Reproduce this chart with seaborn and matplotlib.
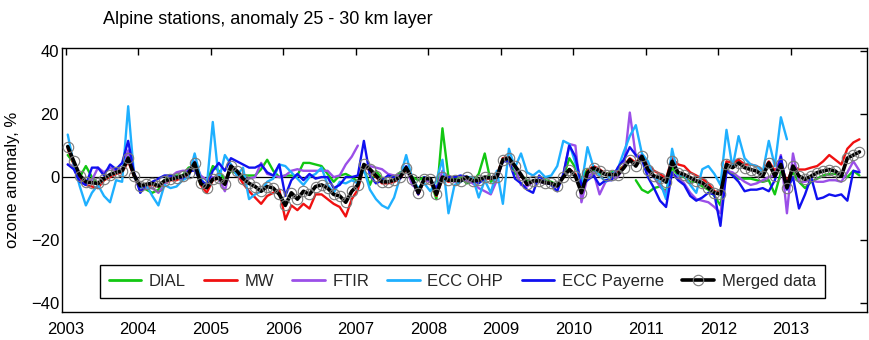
import numpy as np
import pandas as pd
import matplotlib
matplotlib.use("Agg")
import matplotlib.pyplot as plt
from matplotlib.lines import Line2D
import seaborn as sns

nan = np.nan

# Monthly ozone anomalies (%) in the 25-30 km layer, Jan 2003 .. Dec 2013
dial = [
    7, 4.5, 0, 3.5, 0, -2.5, -1, 0.5, 1.5, 2.5, 6.5, 0.5,
    -2.5, -4, -5, -4, -1, 0, 0.5, 0.5, 3, 3.5, -2.5, -2,
    3.5, 2, -1, 2, 1, 0.5, 0.5, 0.5, 2.5, 5.5, 2, 0,
    0.5, 0.5, 0.5, 4.5, 4.5, 4, 3.5, 1, -1.5, 0.5, 1, 0,
    -1.5, 2.5, -2.5, 2, -0.5, -1.5, -1, 1.5, 2, 0, -1, 0,
    -1, -7, 15.5, 0, -0.5, 0, -2, -1.5, 1, 7.5, -1.5, 0,
    6, 5.5, 1, 0.5, -1, -1.5, -1.5, -1, -1.5, -2.5, 0, 6,
    3, -0.5, 2.5, 2, 1, 1, 1.5, 2, 3.5, nan, -1, -4,
    -5, -3.5, -3, -4.5, 3, 0.5, 0, -1.5, -1.5, -3, -4, -6,
    -9, 2, 1, -0.5, -0.5, -0.5, -1, -1.5, -1, -5.5, 1.5, -1.5,
    1.5, -1.5, -3.5, -1.5, -0.5, 0.5, 1, 1, 0.5, 0, 2, 0.5,
]
mw = [
    9, 4, -0.5, -2.5, -3, -3.5, -1, 0, 1, 1.5, 5, 0,
    -4, -3, -2.5, -3, -2, -1, -1, 0, 0.5, 4.5, -2.5, -5,
    -1, -0.5, -1.5, 3, 1, -2, -4.5, -6.5, -8.5, -6, -5, -4,
    -13.5, -9, -10.5, -8.5, -10, -5.5, -5.5, -7, -8.5, -9.5, -12.5, -7,
    -4, 3.5, 2, 0, -2, -2, -1.5, -0.5, 2.5, -1, -5.5, -1,
    -1.5, -6, -0.5, -1.5, -1, -1, 0, -1, -1.5, -0.5, -0.5, 0.5,
    6, 6.5, 3.5, 0.5, -2.5, -1.5, -1, -1.5, -2, -3, 0, 2.5,
    1, -4.5, 2, 3.5, 2.5, 1, 1, 1.5, 3.5, 6, 4.5, 7,
    4, 2, 1, -0.5, 6, 4, 3.5, 1.5, 0.5, -0.5, -2, -4.5,
    -5, 5, 4.5, 5.5, 4, 4, 3.5, 2, 5, 2, 4.5, -1.8,
    3.5, 2.4, 2.4, 3, 3.5, 5, 7, 5.5, 4, 9, 11, 12,
]
ftir = [
    4, 3.5, -1.5, -2.5, -1, 3, 1.5, 3, 2, 2.5, 8.5, 1,
    -2.5, -3.5, -3.5, -5, -2.5, 0, 1.5, 2, 2, 5, 0.5, -1,
    0, -0.5, -4.5, 4, 0.5, -0.5, -0.5, 0, 4.5, 1, 0.5, 0,
    0.5, 2, 2.5, 2, 2, 2, 2, 2, 0, 0.5, 4, 6.5,
    10, nan, 3.5, 3, 2.5, 1, 0.5, 0.5, 3, -2.5, -4, -1,
    -1.5, -4, 2, -0.5, -1.5, -1, -1, -2, -3.5, -4.5, -5.5, -1,
    5.5, 5, 3, -2.5, -3, -1.5, -1.5, -2, -2, -3, 0.5, 10.5,
    10, -8, 0, 1.5, -5.5, -1.5, -0.5, 0, 3, 20.5, 6.5, 7,
    1.5, 0, -3, -5, 1, 0, -2, -5, -7, -7.5, -8, -9.5,
    -11.5, 2, 1.5, 0, -1.5, -2.5, -2, -1, 0, 0.5, 7, -11.5,
    7.5, -1.5, -1.5, -1, -1.5, -1.5, -1, -1, -1.5, 1.5, 5, 2,
]
ecc_ohp = [
    13.5, 4, -3, -9, -5, -2.5, -6, -8, -1, -1.5, 22.5, 0,
    -3.5, -2.5, -6, -9, -2.5, -3.5, -3, -1, 0, 7.5, -0.5, -3,
    17.5, -1, 7, 4, 0.5, 3, -7, -5.5, -4.5, -1.5, -0.5, 4,
    3.5, 1.5, -0.5, -2.5, 0, 1, 3, -2.5, -5, -1.5, -2, -1,
    -2, 2.5, -4, -7, -9, -10, -6.5, 0, 7, -0.5, -3.5, -2,
    -4.5, -1, 5.5, -11.5, -2.5, -1.5, 0, 0, -6.5, -1, -5, 2,
    -8.5, 9, 3, 7.5, 1.5, 0.5, 2, 0, 0.5, 3.5, 11.5, 10.5,
    4.5, -2.5, 9.5, 3, 0.5, -1.5, 1, 2.5, 8, 13, 16.5, 7.5,
    5, 0, -1.5, -7, 9, 0.5, 0.5, -2.5, -5, 2.5, 3.5, 1,
    -2.5, 15, 3, 13, 6, 4, 3.5, 1.5, 11.5, 3.5, 19, 12,
    nan, nan, nan, nan, nan, nan, nan, nan, nan, nan, nan, nan,
]
ecc_payerne = [
    4, 2.5, -1.5, -2.5, 3, 3, 0.5, 4, 2.5, 4.5, 11.5, 1,
    -5, -2.5, -1.5, -0.5, 0.5, 0.5, 0, -0.5, 2, 2, -1, -2.5,
    2, 4.5, 2, 6, 5, 4, 3, 3, 4, 1.5, 0.5, 4,
    -6, -1, 1, -1, 1, -0.5, 0, 0, -3.5, -2.5, 0, 0,
    0.5, 11.5, 0.5, -2, -1, 0.5, 0, -0.5, 3.5, -1, -5.5, 0,
    -1, -3.5, 0, 0, 0, 0.5, 0, -1, -2, -0.5, 0, 0,
    5, 5, -0.5, -2, -4, -5, 0.5, -1.5, -2.5, -4.5, 1, 10,
    6.5, -2.5, -1, 0.5, -2.5, -1, -1, 3, 5.5, 9.5, 7, 5.5,
    0, -3.5, -7.5, -9.5, 1.5, -1, -2.5, -6, -7.5, -6.5, -5, -5.5,
    -15.5, 2, 0.5, -1.5, -4.5, -4, -4, -3.5, -4.5, -1, 6.5, -4,
    0, -10, -5.5, 0, -7, -6.5, -5.5, -6, -5.5, -7.5, 2, 1.5,
]
merged = [
    9.7, 5, 0.5, -1.5, -1.8, -2, -0.5, 0.8, 1.5, 2, 6, 0.5,
    -2.8, -2.3, -2, -2.8, -1.2, -0.7, -0.2, 0.3, 1.2, 4.5, -2, -3.4,
    -0.7, -0.2, -2.3, 3.5, 1.9, -0.5, -2, -3, -4.5, -3, -3.5, -5.5,
    -9, -5, -7, -4.5, -5.5, -3, -2.5, -3.5, -5.5, -6, -8, -4.5,
    -2.5, 4, 2.5, 0.5, -1.5, -1.5, -1, 0, 3, -0.5, -5, -0.5,
    -0.5, -5.5, 0, -1, -1, -1.2, 0, -1.2, -1, 0, -0.3, 0,
    5.5, 6, 3.5, 0.8, -2.3, -1.2, -1.2, -1.8, -2, -2.8, 0, 2.4,
    0.3, -5, 1.4, 2.9, 2, 0.8, 0.8, 0.8, 2.9, 5.5, 3.5, 6.6,
    2.4, 0.3, -0.2, -1.6, 5, 1.4, 0.8, -0.2, -1.2, -1.8, -3.4, -5,
    -5.4, 4, 3, 4.5, 3, 2.4, 1.9, 0.3, 4.5, 0.3, 4, -3.4,
    3.5, 0.3, -0.7, 0.3, 1.4, 1.9, 2.4, 1.9, 0.3, 6, 7, 8,
]

series_names = ["DIAL", "MW", "FTIR", "ECC OHP", "ECC Payerne"]
series_values = [dial, mw, ftir, ecc_ohp, ecc_payerne]
series_colors = ["#12c712", "#f01010", "#9b4fe8", "#1fb0ff", "#1010f0"]
merged_label = "Merged data"
year_ticks = list(range(2003, 2014))
y_ticks = [-40, -20, 0, 20, 40]

# decimal-year time axis, one point per month
n_months = len(merged)
time = 2003 + (np.arange(n_months) + 0.35) / 12.0


def to_frame(values):
    v = np.asarray(values, dtype=float)
    df = pd.DataFrame({"time": time, "anomaly": v})
    # break the line at missing months
    df["segment"] = np.cumsum(np.isnan(v))
    return df.dropna()


sns.set_theme(style="white")
plt.rcParams["font.family"] = ["Liberation Sans", "DejaVu Sans"]
plt.rcParams["axes.edgecolor"] = "black"
plt.rcParams["axes.linewidth"] = 1.0

fig = plt.figure(figsize=(8.7, 3.4), dpi=100)
ax = fig.add_axes([62 / 870, 1 - 311.5 / 340, (867 - 62) / 870, (311.5 - 48) / 340])

ax.axhline(0, color="black", lw=0.9, zorder=1)

for name, vals, col in zip(series_names, series_values, series_colors):
    sns.lineplot(data=to_frame(vals), x="time", y="anomaly", units="segment",
                 estimator=None, sort=False, color=col, linewidth=1.7,
                 legend=False, ax=ax, zorder=2)

sns.lineplot(data=to_frame(merged), x="time", y="anomaly", units="segment",
             estimator=None, sort=False, color="black", linewidth=2.6,
             marker="o", markersize=7.5, markerfacecolor="none",
             markeredgecolor="#7a7a7a", markeredgewidth=0.8,
             legend=False, ax=ax, zorder=3)

ax.set_xlim(2002.95, 2014.05)
ax.set_ylim(-42.7, 41)
ax.set_xticks(year_ticks)
ax.set_xticklabels([str(y) for y in year_ticks])
ax.set_yticks(y_ticks)
ax.tick_params(direction="in", top=True, right=True, length=5, width=1,
               labelsize=12, colors="black")
ax.tick_params(axis="x", pad=7.5)
ax.tick_params(axis="y", pad=2)
ax.set_xlabel("")
ax.set_ylabel("ozone anomaly, %", fontsize=12, color="black", labelpad=8)
for s in ax.spines.values():
    s.set_color("black")
    s.set_linewidth(1.0)

handles = [Line2D([], [], color=c, lw=2) for c in series_colors]
handles.append(Line2D([], [], color="black", lw=2.6, marker="o", markersize=7.5,
                      markerfacecolor="none", markeredgecolor="#7a7a7a",
                      markeredgewidth=0.8))
labels = series_names + [merged_label]
leg = ax.legend(handles, labels, loc="lower center",
                bbox_to_anchor=(0.5 - 2 / 805, (311.5 - 298) / 263.5),
                ncol=6, frameon=True, fancybox=False, framealpha=1,
                edgecolor="black", fontsize=12, handlelength=1.95,
                handletextpad=0.45, columnspacing=1.1, borderpad=0.55,
                borderaxespad=0, numpoints=1)
leg.get_frame().set_linewidth(1.0)

fig.text(103 / 870, 1 - 20 / 340, "Alpine stations, anomaly 25 - 30 km layer",
         fontsize=13, ha="left", va="center", color="black")

fig.savefig("out.png", dpi=100)
